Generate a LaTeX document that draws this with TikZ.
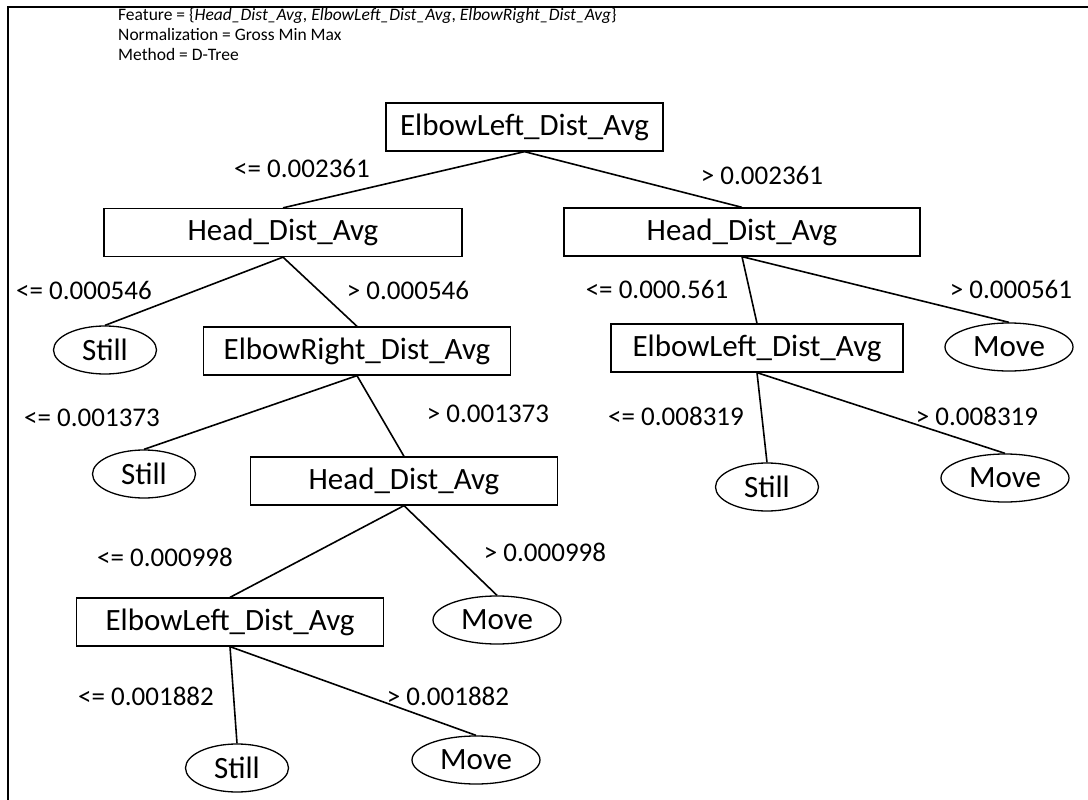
\documentclass[tikz,border=0pt]{standalone}
\usepackage{fontspec}
\setmainfont{Carlito}
\usetikzlibrary{shapes.geometric}

\begin{document}
\begin{tikzpicture}[x=1pt,y=-1pt,
  attr/.style={draw,line width=1.3pt,minimum height=48pt,inner sep=0pt,
    font=\fontsize{31}{36}\selectfont},
  still/.style={draw,ellipse,line width=1.3pt,minimum width=103pt,minimum height=48pt,
    inner sep=0pt,font=\fontsize{31}{36}\selectfont},
  move/.style={still,minimum width=128pt},
  cond/.style={inner sep=0pt,font=\fontsize{27}{32}\selectfont},
  info/.style={anchor=base west,inner sep=0pt,font=\fontsize{17.5}{20}\selectfont},
  branch/.style={line width=1.6pt}]
  \useasboundingbox (0,0) rectangle (1088,800);
  % Frame, cut at right and bottom
  \draw[line width=1.6pt] (8,800) -- (8,7) -- (1088,7);
  % Settings
  \node[info] (feat) at (118,21) {Feature = \{\textit{Head\_Dist\_Avg}, \textit{ElbowLeft\_Dist\_Avg}, \textit{ElbowRight\_Dist\_Avg}\}};
  \node[info] (norm) at (118,41) {Normalization = Gross Min Max};
  \node[info] (meth) at (118,61) {Method = D-Tree};
  % Tests
  \node[attr,minimum width=277pt] (root) at (524.5,127) {ElbowLeft\_Dist\_Avg};
  \node[attr,minimum width=358pt] (headL) at (283,232.5) {Head\_Dist\_Avg};
  \node[attr,minimum width=356pt] (headR) at (742,232) {Head\_Dist\_Avg};
  \node[attr,minimum width=307pt] (elbowR) at (357,351) {ElbowRight\_Dist\_Avg};
  \node[attr,minimum width=292pt] (elbowLR) at (757,348) {ElbowLeft\_Dist\_Avg};
  \node[attr,minimum width=307pt] (headM) at (404,481) {Head\_Dist\_Avg};
  \node[attr,minimum width=307pt] (elbowLB) at (230,622) {ElbowLeft\_Dist\_Avg};
  % Leaves
  \node[still] (stillA) at (105,350) {Still};
  \node[move] (moveA) at (1009,347) {Move};
  \node[still] (stillB) at (144,474) {Still};
  \node[still] (stillC) at (767,487) {Still};
  \node[move] (moveB) at (1005,478) {Move};
  \node[move] (moveC) at (497,620) {Move};
  \node[still] (stillD) at (237,768) {Still};
  \node[move] (moveD) at (476,760) {Move};
  % Branches
  \draw[branch] (root.south) -- (headL.north);
  \draw[branch] (root.south) -- (headR.north);
  \draw[branch] (headL.south) -- (stillA.north);
  \draw[branch] (headL.south) -- (elbowR.north);
  \draw[branch] (headR.south) -- (elbowLR.north);
  \draw[branch] (headR.south) -- (moveA.north);
  \draw[branch] (elbowR.south) -- (stillB.north);
  \draw[branch] (elbowR.south) -- (headM.north);
  \draw[branch] (elbowLR.south) -- (stillC.north);
  \draw[branch] (elbowLR.south) -- (moveB.north);
  \draw[branch] (headM.south) -- (elbowLB.north);
  \draw[branch] (headM.south) -- (moveC.north);
  \draw[branch] (elbowLB.south) -- (stillD.north);
  \draw[branch] (elbowLB.south) -- (moveD.north);
  % Thresholds
  \node[cond] (c1) at (302,168) {<= 0.002361};
  \node[cond] (c2) at (762,175) {> 0.002361};
  \node[cond] (c3) at (84,290) {<= 0.000546};
  \node[cond] (c4) at (408,290) {> 0.000546};
  \node[cond] (c5) at (657,289) {<= 0.000.561};
  \node[cond] (c6) at (1011,289) {> 0.000561};
  \node[cond] (c7) at (92,418) {<= 0.001373};
  \node[cond] (c8) at (488,414) {> 0.001373};
  \node[cond] (c9) at (676,416) {<= 0.008319};
  \node[cond] (c10) at (977,416) {> 0.008319};
  \node[cond] (c11) at (165,557) {<= 0.000998};
  \node[cond] (c12) at (545,552) {> 0.000998};
  \node[cond] (c13) at (146,696) {<= 0.001882};
  \node[cond] (c14) at (448,696) {> 0.001882};
\end{tikzpicture}
\end{document}
